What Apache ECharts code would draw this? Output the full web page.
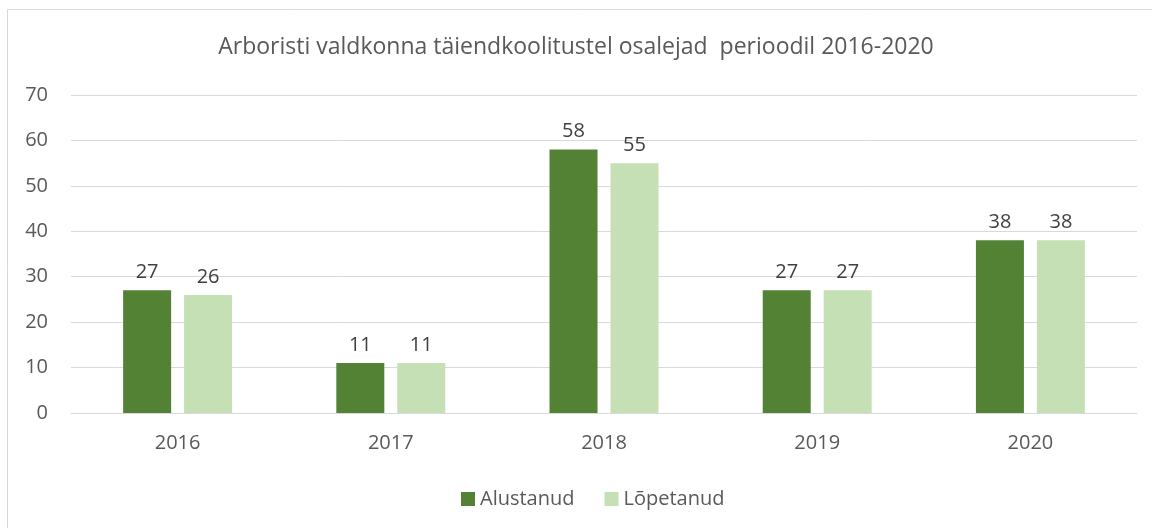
<!DOCTYPE html>
<html>
<head>
<meta charset="utf-8">
<script src="https://cdn.jsdelivr.net/npm/echarts@6/dist/echarts.min.js"></script>
<style>
html, body { margin: 0; padding: 0; background: #fff; }
#chart { width: 1152px; height: 528px; }
</style>
</head>
<body>
<div id="chart"></div>
<script>
const years = ['2016', '2017', '2018', '2019', '2020']
const alustanud = [27, 11, 58, 27, 38]
const lopetanud = [26, 11, 55, 27, 38]

const myChart = echarts.init(document.getElementById('chart'))

const labelStyle = {
	show: true,
	position: 'top',
	distance: 8,
	color: '#404040',
	fontSize: 20,
	fontFamily: 'Open Sans',
}

const option = {
	backgroundColor: '#fff',
	animation: false,
	graphic: [
		{
			type: 'rect',
			shape: { x: 7.5, y: 9.5, width: 1200, height: 600 },
			style: { fill: 'none', stroke: '#d9d9d9', lineWidth: 1 },
		},
	],
	title: {
		text: 'Arboristi valdkonna täiendkoolitustel osalejad  perioodil 2016-2020',
		left: 'center',
		top: 31,
		textStyle: {
			color: '#595959',
			fontSize: 23,
			fontWeight: 'normal',
			fontFamily: 'Open Sans',
		},
	},
	legend: {
		top: 484,
		left: 456,
		itemWidth: 14,
		itemHeight: 14,
		itemGap: 30,
		icon: 'rect',
		textStyle: {
			color: '#595959',
			fontSize: 20,
			fontFamily: 'Open Sans',
		},
		data: ['Alustanud', 'Lõpetanud'],
	},
	grid: {
		left: 71,
		right: 15,
		top: 95,
		bottom: 115,
	},
	xAxis: {
		type: 'category',
		data: years,
		axisLine: { lineStyle: { color: '#d9d9d9', width: 1 } },
		axisTick: { show: false },
		axisLabel: {
			color: '#595959',
			fontSize: 20,
			fontFamily: 'Open Sans',
			margin: 20,
		},
	},
	yAxis: {
		type: 'value',
		min: 0,
		max: 70,
		interval: 10,
		axisLine: { show: false },
		axisTick: { show: false },
		axisLabel: {
			color: '#595959',
			fontSize: 20,
			fontFamily: 'Open Sans',
			margin: 23,
		},
		splitLine: { lineStyle: { color: '#d9d9d9', width: 1 } },
	},
	series: [
		{
			name: 'Alustanud',
			type: 'bar',
			data: alustanud,
			barWidth: 48,
			barGap: '27%',
			itemStyle: { color: '#548235' },
			label: labelStyle,
		},
		{
			name: 'Lõpetanud',
			type: 'bar',
			data: lopetanud,
			barWidth: 48,
			itemStyle: { color: '#C5E0B4' },
			label: labelStyle,
		},
	],
}

myChart.setOption(option)
</script>
</body>
</html>
